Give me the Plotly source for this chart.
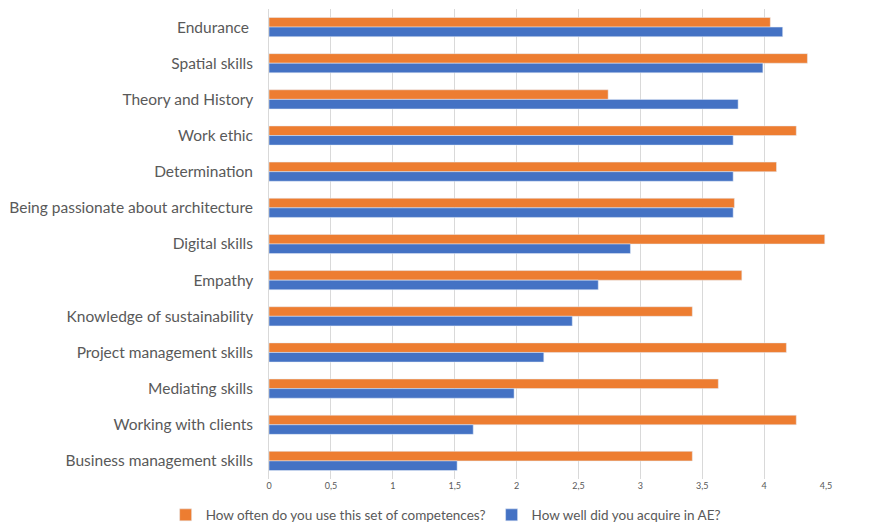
import plotly.graph_objects as go

categories = [
    "Endurance ", "Spatial skills", "Theory and History", "Work ethic",
    "Determination", "Being passionate about architecture", "Digital skills",
    "Empathy", "Knowledge of sustainability", "Project management skills",
    "Mediating skills", "Working with clients", "Business management skills",
]
use_often = [4.05, 4.35, 2.74, 4.26, 4.10, 3.76, 4.49, 3.82, 3.42, 4.18, 3.63, 4.26, 3.42]
acquired = [4.15, 3.99, 3.79, 3.75, 3.75, 3.75, 2.92, 2.66, 2.45, 2.22, 1.98, 1.65, 1.52]
tick_vals = [0, 0.5, 1, 1.5, 2, 2.5, 3, 3.5, 4, 4.5]
tick_text = ["0", "0,5", "1", "1,5", "2", "2,5", "3", "3,5", "4", "4,5"]

font_family = "Lato, 'Open Sans', sans-serif"

fig = go.Figure()
fig.add_trace(go.Bar(
    y=categories, x=use_often, orientation="h",
    name="How often do you use this set of competences?",
    marker=dict(color="#ED7D31"), legend="legend",
))
fig.add_trace(go.Bar(
    y=categories, x=acquired, orientation="h",
    name="How well did you acquire in AE?",
    marker=dict(color="#4472C4"), legend="legend2",
))

legend_common = dict(orientation="h", xref="container", yref="container",
                     xanchor="left", y=0.017, yanchor="middle",
                     font=dict(size=13.5, color="#595959"),
                     itemwidth=30, bgcolor="rgba(0,0,0,0)")

fig.update_layout(
    width=881, height=524,
    margin=dict(l=269, r=55, t=9, b=45),
    paper_bgcolor="white", plot_bgcolor="white",
    barmode="group", bargap=0.47, bargroupgap=0,
    font=dict(family=font_family, color="#595959"),
    showlegend=True,
    legend=dict(x=0.188, **legend_common),
    legend2=dict(x=0.558, **legend_common),
    xaxis=dict(range=[0, 4.5], tickvals=tick_vals, ticktext=tick_text,
               showgrid=True, gridcolor="#d9d9d9", gridwidth=1,
               zeroline=False, showline=False, automargin=False,
               tickfont=dict(size=9, color="#595959"), ticks=""),
    yaxis=dict(autorange="reversed", showline=True, linecolor="#d9d9d9", linewidth=1,
               automargin=False,
               tickfont=dict(size=15.5, color="#595959"), ticks="", ticklen=0,
               ticksuffix="   "),
)

fig.write_html("out.html", config={"displayModeBar": False},
               post_script="document.body.style.margin='0';")
